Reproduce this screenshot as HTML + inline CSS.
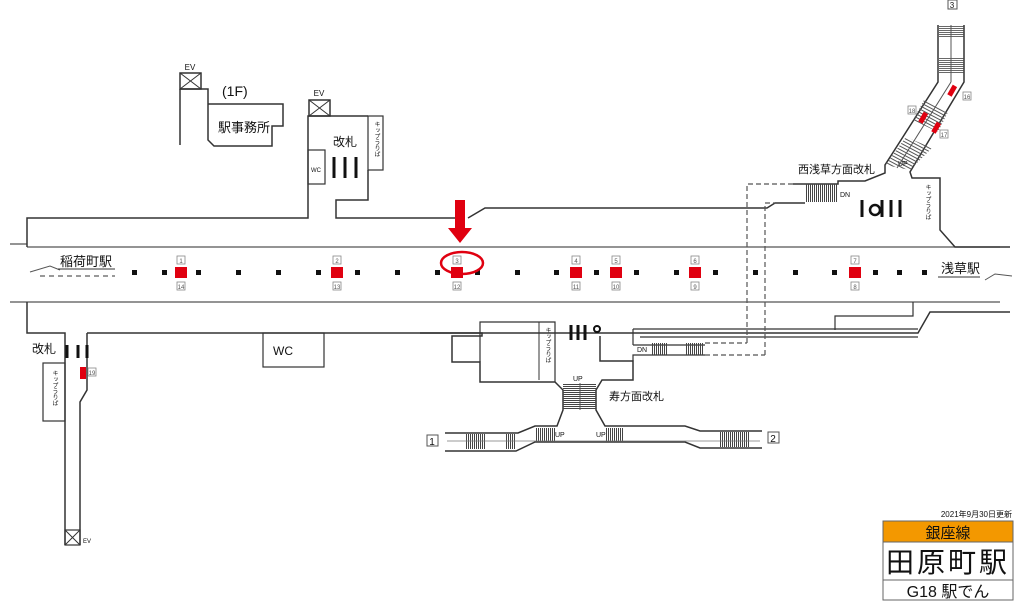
<!DOCTYPE html>
<html><head><meta charset="utf-8"><style>
html,body{margin:0;padding:0;background:#fff;}
svg{display:block;font-family:"Liberation Sans","Noto Sans CJK JP",sans-serif;}
</style></head><body>
<svg width="1024" height="607" viewBox="0 0 1024 607" xmlns="http://www.w3.org/2000/svg">
<defs>
<pattern id="hv" width="2" height="4" patternUnits="userSpaceOnUse"><rect width="1" height="4" fill="#444"/></pattern>
<pattern id="hh" width="4" height="2" patternUnits="userSpaceOnUse"><rect width="4" height="1" fill="#444"/></pattern>
<pattern id="hd" width="3" height="3" patternUnits="userSpaceOnUse" patternTransform="rotate(28)"><rect width="3" height="1" fill="#555"/></pattern>
</defs>
<g fill="none" stroke="#333" stroke-width="1.5">
<path d="M10 244 H27 M27 247 H1000 M10 302 H27 M27 302 H1000" stroke="#555" stroke-width="1.2"/>
<path d="M27 247 V218 H308 V116 H368 M368 170 V200 H336 V218 H455"/>
<path d="M468 218 L485 208 H767 L775 203 H805 M793 184 H838 V181 H865 L885 173 L885 165 L938 82 V25 M964 25 V82 L910 172 L912 178 H940 V230 L955 247 H1010"/>
<rect x="309" y="100" width="21" height="16"/><path d="M309 100 L330 116 M330 100 L309 116" stroke-width="1"/>
<rect x="180" y="73" width="21" height="16"/><path d="M180 73 L201 89 M201 73 L180 89" stroke-width="1"/>
<path d="M180 89 V145 M180 89 H208 V104 H283 V126 H272 V146 H214 L208 140 V104"/>
<rect x="368" y="116" width="15" height="54" stroke-width="1.2"/>
<rect x="308" y="150" width="17" height="34" stroke-width="1.2"/>
<path d="M27 302 V333 H65 V545 M87 333 H918 L930 312 H1010 M87 333 V390 L80 402 V545"/>
<path d="M835 330 V316 H913 V302" stroke-width="1.2"/>
<rect x="65" y="530" width="15" height="15" stroke-width="1.2"/><path d="M65 530 L80 545 M80 530 L65 545" stroke-width="1"/>
<rect x="43" y="363" width="22" height="58" stroke-width="1.2"/>
<rect x="263" y="333" width="61" height="34" stroke-width="1.2"/>
<path d="M420 333 H482 V336 H452 V362 H480 V382 H555 L563 390 V410 L557 426 H535 L518 433 H445"/>
<path d="M480 362 V322 H555 V382" stroke-width="1.2"/>
<path d="M539 322 V380" stroke-width="1"/>
<path d="M600 336 V361 H633 V380 H602 L596 390 V410 L605 426 H685 L700 431 H762"/>
<path d="M633 361 V355 H705 M633 345 H705 M633 329 V345 M633 329 H918 M640 337 H918" stroke-width="1.2"/>
<path d="M445 451 H516 L535 442 H685 L700 448 H762"/>
</g>
<path d="M747 343 V184 H793 M765 355 V203 H775 M705 343 H747 M705 355 H765" fill="none" stroke="#555" stroke-dasharray="5,3" stroke-width="1.2"/>
<rect x="563" y="383" width="33" height="27" fill="url(#hh)"/>
<line x1="580" y1="383" x2="580" y2="410" stroke="#555"/>
<rect x="465" y="434" width="20" height="15" fill="url(#hv)"/>
<rect x="506" y="434" width="10" height="15" fill="url(#hv)"/>
<rect x="536" y="428" width="20" height="14" fill="url(#hv)"/>
<rect x="606" y="428" width="18" height="14" fill="url(#hv)"/>
<rect x="720" y="432" width="30" height="15" fill="url(#hv)"/>
<rect x="651" y="343" width="17" height="12" fill="url(#hv)"/>
<rect x="685" y="343" width="18" height="12" fill="url(#hv)"/>
<rect x="805" y="184" width="33" height="18" fill="url(#hv)"/>
<line x1="447" y1="441" x2="760" y2="441" stroke="#777" stroke-width="0.8"/>
<rect x="939" y="25" width="25" height="12" fill="url(#hh)" opacity="0.8"/>
<rect x="939" y="58" width="25" height="16" fill="url(#hh)" opacity="0.8"/>
<polygon points="924,100 948,112 938,132 913,120" fill="url(#hd)"/>
<polygon points="906,137 932,148 910,170 885,165" fill="url(#hd)"/>
<line x1="951" y1="25" x2="951" y2="82" stroke="#555"/><line x1="951" y1="82" x2="897" y2="168" stroke="#555"/>
<g fill="#e00010">
<rect x="950" y="85" width="5" height="11" transform="rotate(30 952 90)"/>
<rect x="921" y="112" width="5" height="11" transform="rotate(30 923 117)"/>
<rect x="934" y="122" width="5" height="11" transform="rotate(30 936 127)"/>
<rect x="80" y="367" width="6" height="12"/>
</g>
<g stroke="#111" stroke-width="3">
<path d="M334 157 V178 M345 157 V178 M356 157 V178"/>
<path d="M67 345 V358 M78 345 V358 M87 345 V358"/>
<path d="M571 325 V340 M578 325 V340 M585 325 V340"/>
<path d="M862 200 V217 M882 200 V217 M891 200 V217 M900 200 V217"/>
</g>
<circle cx="597" cy="329" r="3" fill="none" stroke="#111" stroke-width="2"/>
<circle cx="875" cy="210" r="5" fill="none" stroke="#111" stroke-width="2.5"/>
<g fill="#111">
<rect x="132" y="270" width="5" height="5"/><rect x="162" y="270" width="5" height="5"/><rect x="196" y="270" width="5" height="5"/><rect x="236" y="270" width="5" height="5"/><rect x="276" y="270" width="5" height="5"/><rect x="316" y="270" width="5" height="5"/><rect x="355" y="270" width="5" height="5"/><rect x="395" y="270" width="5" height="5"/><rect x="435" y="270" width="5" height="5"/><rect x="475" y="270" width="5" height="5"/><rect x="515" y="270" width="5" height="5"/><rect x="554" y="270" width="5" height="5"/><rect x="594" y="270" width="5" height="5"/><rect x="634" y="270" width="5" height="5"/><rect x="674" y="270" width="5" height="5"/><rect x="713" y="270" width="5" height="5"/><rect x="753" y="270" width="5" height="5"/><rect x="793" y="270" width="5" height="5"/><rect x="832" y="270" width="5" height="5"/><rect x="873" y="270" width="5" height="5"/><rect x="897" y="270" width="5" height="5"/><rect x="922" y="270" width="5" height="5"/>
</g>
<g fill="#e00010">
<rect x="175" y="267" width="12" height="11"/><rect x="331" y="267" width="12" height="11"/><rect x="451" y="267" width="12" height="11"/><rect x="570" y="267" width="12" height="11"/><rect x="610" y="267" width="12" height="11"/><rect x="689" y="267" width="12" height="11"/><rect x="849" y="267" width="12" height="11"/>
</g>
<g font-size="6" fill="#555" text-anchor="middle">
<g fill="none" stroke="#888" stroke-width="0.8">
<rect x="177" y="256" width="8" height="8"/><rect x="333" y="256" width="8" height="8"/><rect x="453" y="256" width="8" height="8"/><rect x="572" y="256" width="8" height="8"/><rect x="612" y="256" width="8" height="8"/><rect x="691" y="256" width="8" height="8"/><rect x="851" y="256" width="8" height="8"/>
<rect x="177" y="282" width="8" height="8"/><rect x="333" y="282" width="8" height="8"/><rect x="453" y="282" width="8" height="8"/><rect x="572" y="282" width="8" height="8"/><rect x="612" y="282" width="8" height="8"/><rect x="691" y="282" width="8" height="8"/><rect x="851" y="282" width="8" height="8"/>
<rect x="88" y="368" width="8" height="8"/><rect x="908" y="106" width="8" height="8"/><rect x="963" y="92" width="8" height="8"/><rect x="940" y="130" width="8" height="8"/>
</g>
<text x="181" y="263">1</text><text x="337" y="263">2</text><text x="457" y="263">3</text><text x="576" y="263">4</text><text x="616" y="263">5</text><text x="695" y="263">6</text><text x="855" y="263">7</text>
<text x="181" y="289">14</text><text x="337" y="289">13</text><text x="457" y="289">12</text><text x="576" y="289">11</text><text x="616" y="289">10</text><text x="695" y="289">9</text><text x="855" y="289">8</text>
<text x="92" y="375">19</text><text x="912" y="113">18</text><text x="967" y="99">16</text><text x="944" y="137">17</text>
</g>
<polygon points="455,200 465,200 465,228 472,228 460,243 448,228 455,228" fill="#e00010"/>
<ellipse cx="462" cy="263" rx="21" ry="11" fill="none" stroke="#e00010" stroke-width="2.5"/>
<path d="M30 272 L50 266 L60 270" fill="none" stroke="#555" stroke-width="1"/>
<line x1="40" y1="276" x2="115" y2="276" stroke="#333" stroke-dasharray="5,4"/>
<line x1="58" y1="269" x2="115" y2="269" stroke="#333"/>
<line x1="938" y1="277" x2="980" y2="277" stroke="#333"/>
<path d="M985 280 L995 274 L1012 276" fill="none" stroke="#555"/>
<g fill="#111">
<text x="60" y="266" font-size="13">稲荷町駅</text>
<text x="941" y="273" font-size="13">浅草駅</text>
<text x="222" y="96" font-size="14">(1F)</text>
<text x="218" y="132" font-size="13">駅事務所</text>
<text x="333" y="146" font-size="12">改札</text>
<text x="32" y="353" font-size="12">改札</text>
<text x="798" y="173" font-size="11">西浅草方面改札</text>
<text x="609" y="400" font-size="11">寿方面改札</text>
<text x="283" y="355" font-size="12" text-anchor="middle">WC</text>
<text x="190" y="70" font-size="8" text-anchor="middle">EV</text>
<text x="319" y="96" font-size="8" text-anchor="middle">EV</text>
<text x="83" y="543" font-size="6">EV</text>
<text x="316" y="172" font-size="6" text-anchor="middle">WC</text>
<text x="840" y="197" font-size="7">DN</text>
<text x="637" y="352" font-size="7">DN</text>
<text x="898" y="166" font-size="7">UP</text>
<text x="573" y="381" font-size="7">UP</text>
<text x="555" y="437" font-size="7">UP</text>
<text x="596" y="437" font-size="7">UP</text>
<g font-size="6" writing-mode="tb">
<text x="376" y="121">キップうりば</text>
<text x="547" y="327">キップうりば</text>
<text x="54" y="370">キップうりば</text>
<text x="927" y="184">キップうりば</text>
</g>
<rect x="948" y="0" width="9" height="9" fill="none" stroke="#555"/><text x="952" y="8" font-size="8" text-anchor="middle">3</text>
<rect x="427" y="435" width="11" height="11" fill="none" stroke="#555"/><text x="432" y="445" font-size="10" text-anchor="middle">1</text>
<rect x="768" y="432" width="11" height="11" fill="none" stroke="#555"/><text x="773" y="442" font-size="10" text-anchor="middle">2</text>
<text x="1012" y="517" font-size="8" text-anchor="end">2021年9月30日更新</text>
</g>
<rect x="883" y="521" width="130" height="21" fill="#f39800" stroke="#666"/>
<rect x="883" y="542" width="130" height="38" fill="#fff" stroke="#666"/>
<rect x="883" y="580" width="130" height="20" fill="#fff" stroke="#666"/>
<text x="948" y="538" font-size="15" text-anchor="middle" fill="#111">銀座線</text>
<text x="948" y="572" font-size="28" text-anchor="middle" fill="#111" letter-spacing="3">田原町駅</text>
<text x="948" y="597" font-size="16" text-anchor="middle" fill="#111">G18 駅でん</text>
</svg>
</body></html>
